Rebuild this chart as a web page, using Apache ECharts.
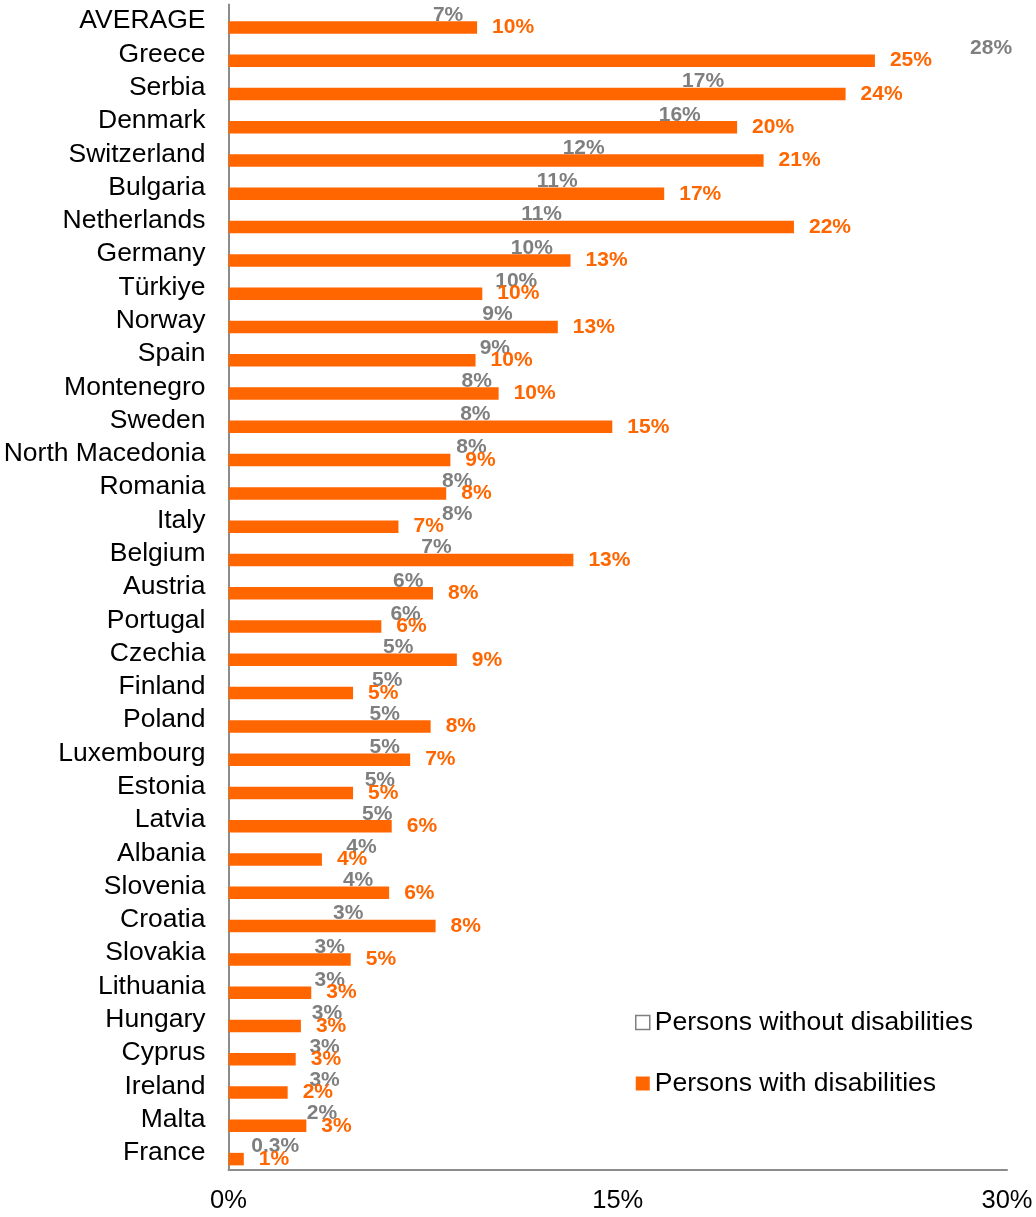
<!DOCTYPE html>
<html>
<head>
<meta charset="utf-8">
<script src="https://cdn.jsdelivr.net/npm/echarts@6/dist/echarts.min.js"></script>
<style>
html,body{margin:0;padding:0;background:#fff;}
#chart{width:1036px;height:1217px;}
</style>
</head>
<body>
<div id="chart"></div>
<script>
const categories = ['AVERAGE','Greece','Serbia','Denmark','Switzerland','Bulgaria','Netherlands','Germany','Türkiye','Norway','Spain','Montenegro','Sweden','North Macedonia','Romania','Italy','Belgium','Austria','Portugal','Czechia','Finland','Poland','Luxembourg','Estonia','Latvia','Albania','Slovenia','Croatia','Slovakia','Lithuania','Hungary','Cyprus','Ireland','Malta','France'];
const withoutDisabilities = [7.3,28.0,16.9,16.0,12.3,11.3,10.7,10.3,9.7,9.2,9.1,8.4,8.35,8.2,7.65,7.65,6.85,5.76,5.66,5.38,4.95,4.86,4.86,4.67,4.57,3.96,3.83,3.45,2.74,2.74,2.63,2.54,2.54,2.44,0.3];
const withDisabilities = [9.58,24.91,23.78,19.6,20.62,16.79,21.79,13.18,9.78,12.69,9.52,10.41,14.79,8.55,8.39,6.55,13.29,7.88,5.89,8.8,4.8,7.79,7.0,4.8,6.29,3.6,6.19,7.98,4.71,3.19,2.79,2.59,2.28,3.0,0.59];
const xTicks = [0, 15, 30];
const seriesNames = ['Persons without disabilities','Persons with disabilities'];

const FONT = '"Liberation Sans", Arial, sans-serif';
const ORANGE = '#FF6600';
const GREY = '#7F7F7F';

function fmt(p){
  const v = p.value;
  const r = Math.round(v);
  return r >= 1 ? r + '%' : v.toFixed(1) + '%';
}

const chart = echarts.init(document.getElementById('chart'), null, {renderer:'canvas'});
chart.setOption({
  animation: false,
  textStyle: {fontFamily: FONT},
  grid: {left: 228.5, right: 29, top: 4.5, bottom: 47.5, containLabel: false},
  legend: {
    orient: 'vertical',
    left: 630,
    top: 1004,
    itemWidth: 14,
    itemHeight: 14,
    itemGap: 34,
    icon: 'rect',
    textStyle: {fontSize: 26.5, color: '#000', fontFamily: FONT, lineHeight: 27},
    data: [
      {name: seriesNames[0], itemStyle: {color: '#fff', borderColor: '#7F7F7F', borderWidth: 1.5}},
      {name: seriesNames[1], itemStyle: {color: ORANGE}}
    ]
  },
  xAxis: {
    type: 'value',
    min: xTicks[0],
    max: xTicks[xTicks.length-1],
    interval: xTicks[1]-xTicks[0],
    axisLine: {show: true, lineStyle: {color: '#8C8C8C', width: 2}},
    axisTick: {show: false},
    splitLine: {show: false},
    axisLabel: {formatter: '{value}%', fontSize: 25.5, color: '#000', margin: 18, fontFamily: FONT}
  },
  yAxis: {
    type: 'category',
    data: categories,
    inverse: true,
    axisLine: {show: true, lineStyle: {color: '#8C8C8C', width: 2}},
    axisTick: {show: false},
    axisLabel: {interval: 0, hideOverlap: false, fontSize: 26.5, color: '#000', margin: 23, fontFamily: FONT}
  },
  series: [
    {
      name: seriesNames[0],
      type: 'bar',
      data: withoutDisabilities,
      barWidth: 12.5,
      barGap: '0%',
      itemStyle: {color: 'rgba(255,255,255,0)'},
      label: {show: true, position: 'right', distance: 15, formatter: fmt, color: GREY, fontSize: 21, fontWeight: 'bold', fontFamily: FONT}
    },
    {
      name: seriesNames[1],
      type: 'bar',
      data: withDisabilities,
      barWidth: 12.5,
      barGap: '0%',
      itemStyle: {color: ORANGE},
      label: {show: true, position: 'right', distance: 15, formatter: fmt, color: ORANGE, fontSize: 21, fontWeight: 'bold', fontFamily: FONT}
    }
  ]
});
</script>
</body>
</html>
